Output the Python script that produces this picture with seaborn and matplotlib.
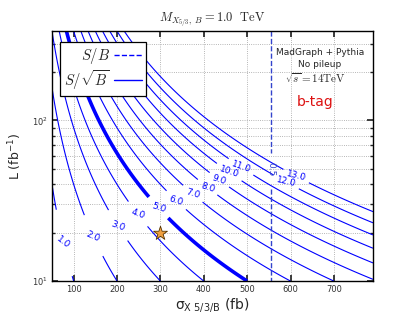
import numpy as np
import matplotlib
matplotlib.use('Agg')
import matplotlib.pyplot as plt
from matplotlib.lines import Line2D
from matplotlib.font_manager import FontProperties
from matplotlib.ticker import NullFormatter
import seaborn as sns

# scan: signal cross section (fb) vs integrated luminosity (fb^-1)
sigma_fb = np.arange(50, 800, 10)
lumi = np.logspace(1, np.log10(360), 150)

# numbers: S/sqrt(B)=1 at 100 fb & 10 fb^-1, S/B=0.5 at ~555 fb
sig_eff = 0.0111
bkg_fb = 12.3

signif_levels = [1.0, 2.0, 3.0, 4.0, 5.0, 6.0, 7.0, 8.0, 9.0, 10.0, 11.0, 12.0, 13.0]
sb_levels = [0.5]

# benchmark point
star_sigma = [300]
star_lumi = [20]

# where the contour labels sit (sigma, L)
label_pos = [(75, 16.7), (145, 18.8), (202, 22.2), (248, 26.2), (296, 29.6),
             (337, 33.3), (375, 35.8), (409, 39.3), (436, 43.3), (459, 48.7),
             (486, 52.3), (590, 42.2), (613, 45.4)]
sb_label_pos = [(555, 50)]

sns.set_theme(style='ticks', rc={'axes.edgecolor': 'black', 'axes.linewidth': 1.0})
plt.rcParams['font.family'] = ['DejaVu Sans']

S, L = np.meshgrid(sigma_fb, lumi)
n_sig = sig_eff * S * L
n_bkg = bkg_fb * L
signif = n_sig / np.sqrt(n_bkg)
s_over_b = n_sig / n_bkg

fig = plt.figure(figsize=(4.15, 3.12), dpi=100)
ax = fig.add_axes([0.1253, 0.0994, 0.7735, 0.801])

widths = [2.6 if lev == 5.0 else 0.8 for lev in signif_levels]
cs = ax.contour(S, L, signif, levels=signif_levels, colors='blue', linewidths=widths)
ax.clabel(cs, fmt='%.1f', fontsize=6.5, colors='blue', manual=label_pos, inline_spacing=3)

cs_sb = ax.contour(S, L, s_over_b, levels=sb_levels, colors='#3344cc',
                   linewidths=1.0, linestyles='dashed')
ax.clabel(cs_sb, fmt='%.1f', fontsize=6.5, colors='#3344cc', manual=sb_label_pos, inline_spacing=2)

sns.scatterplot(x=star_sigma, y=star_lumi, marker='*', s=110, color='#f0a040',
                edgecolor='#553300', linewidth=0.6, ax=ax, zorder=5)

ax.set_yscale('log')
ax.set_xlim(50, 790)
ax.set_ylim(10, 360)
ax.yaxis.set_minor_formatter(NullFormatter())
ax.set_xticks([100, 200, 300, 400, 500, 600, 700])
ax.grid(True, which='major', axis='both', color='0.62', linestyle=':', linewidth=0.6)
ax.grid(True, which='minor', axis='y', color='0.62', linestyle=':', linewidth=0.6)
ax.tick_params(which='both', direction='in', top=True, right=True, labelsize=6, pad=3,
               labelcolor='0.2')
ax.tick_params(which='major', length=4)
ax.tick_params(which='minor', length=2)

ax.set_title(r'$M_{X_{5/3},\ B} = 1.0\ \ \mathrm{TeV}$', fontsize=9, pad=6,
             math_fontfamily='cm')
ax.set_xlabel(r'$\mathregular{\sigma_{X\ 5/3/B}}$ (fb)', fontsize=10, labelpad=1)
ax.set_ylabel(r'L (fb$^{-1}$)', fontsize=9, labelpad=6)

handles = [Line2D([], [], color='blue', linestyle='--', lw=1.0),
           Line2D([], [], color='blue', linestyle='-', lw=1.0)]
leg = ax.legend(handles, [r'$S/B$', r'$S/\sqrt{B}$'], loc='upper left',
                bbox_to_anchor=(0.025, 0.957), borderaxespad=0, markerfirst=False,
                prop=FontProperties(size=10.5, math_fontfamily='cm'), fancybox=False,
                framealpha=1, edgecolor='black', handlelength=1.9, labelspacing=0.1,
                borderpad=0.3, handletextpad=0.3)
leg.get_frame().set_linewidth(0.9)

ax.text(0.835, 0.916, 'MadGraph + Pythia', transform=ax.transAxes, ha='center',
        va='center', fontsize=6.5)
ax.text(0.835, 0.866, 'No pileup', transform=ax.transAxes, ha='center', va='center',
        fontsize=6.5)
ax.text(0.822, 0.81, r'$\sqrt{s} = 14 \mathrm{TeV}$', transform=ax.transAxes, ha='center',
        va='center', fontsize=8, math_fontfamily='cm')
ax.text(0.82, 0.717, 'b-tag', transform=ax.transAxes, ha='center', va='center',
        fontsize=10, color='#dd1111')

fig.savefig('out.png', dpi=100)
